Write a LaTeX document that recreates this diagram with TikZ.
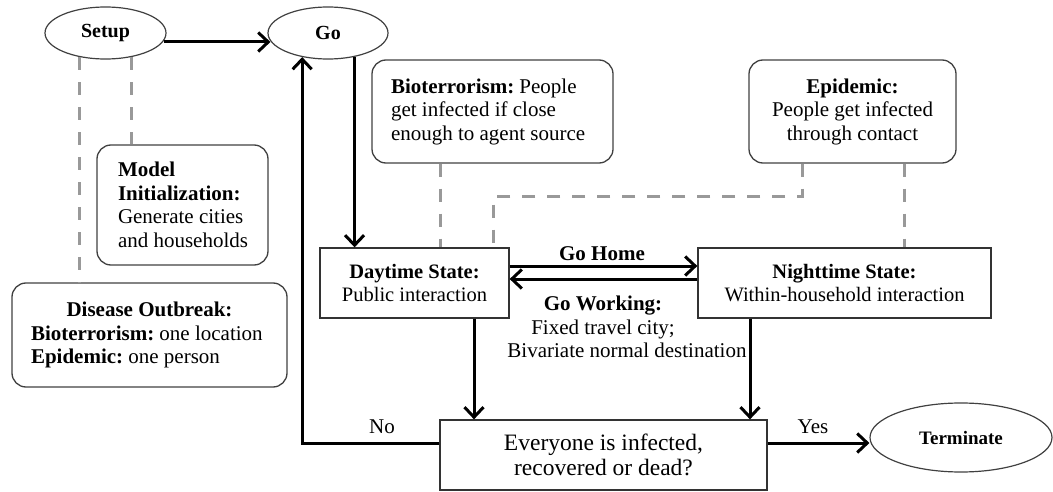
\documentclass[tikz,border=0pt]{standalone}
\usepackage{fontspec}
\setmainfont{Liberation Serif}
\usetikzlibrary{shapes.geometric,arrows.meta,calc}
\newlength{\mylw}
\newcommand{\lline}[1]{\makebox[\mylw][l]{#1}}
\begin{document}
\frenchspacing
\begin{tikzpicture}[x=1pt,y=-1pt,
 ell/.style={draw=black!75, line width=1.2pt, ellipse, inner sep=0pt, font=\fontsize{20}{24}\selectfont\bfseries},
 rbox/.style={draw=black!75, line width=1.3pt, rounded corners=14pt, inner sep=0pt, font=\fontsize{21}{23.5}\selectfont},
 sbox/.style={draw=black!80, line width=1.3pt, inner sep=0pt, font=\fontsize{20.5}{23}\selectfont, align=center},
 arr/.style={line width=3pt, -{Straight Barb[length=10pt,width=19pt]}},
 dsh/.style={draw=gray!80, line width=3pt, dash pattern=on 13pt off 12pt},
 lbl/.style={inner sep=0pt, font=\fontsize{21}{23.5}\selectfont}]

\useasboundingbox (0,0) rectangle (1053,492);

% ellipses
\node[ell, minimum width=121pt, minimum height=52pt] (setup) at (105.5,33) {Setup};
\node[ell, minimum width=120pt, minimum height=52pt] (go) at (328,33) {Go};
\node[ell, minimum width=182pt, minimum height=69pt, font=\fontsize{19}{23}\selectfont\bfseries] (term) at (961,437.5) {Terminate};

% rounded annotation boxes
\node[rbox, minimum width=171pt, minimum height=120pt, align=left] (mod) at (182.5,205)
 {\setlength{\mylw}{129pt}\lline{\textbf{Model}}\\\lline{\textbf{Initialization:}}\\\lline{Generate cities}\\\lline{and households}};
\node[rbox, minimum width=275pt, minimum height=104pt, align=left] (dis) at (149.5,335)
 {\setlength{\mylw}{237pt}\makebox[\mylw]{\textbf{Disease Outbreak:}}\\\lline{\textbf{Bioterrorism:} one location}\\\lline{\textbf{Epidemic:} one person}};
\node[rbox, minimum width=241pt, minimum height=103pt, align=left] (bio) at (492.5,111.5)
 {\setlength{\mylw}{203pt}\lline{\textbf{Bioterrorism:} People}\\\lline{get infected if close}\\\lline{enough to agent source}};
\node[rbox, minimum width=207pt, minimum height=103pt, align=center] (epi) at (852.5,111.5)
 {\textbf{Epidemic:}\\People get infected\\through contact};

% state boxes
\node[sbox, minimum width=189pt, minimum height=70pt] (day) at (414.5,283)
 {\textbf{Daytime State:}\\Public interaction};
\node[sbox, minimum width=293pt, minimum height=70pt] (night) at (844.5,283)
 {\textbf{Nighttime State:}\\Within-household interaction};
\node[sbox, minimum width=327pt, minimum height=70pt, font=\fontsize{23.5}{25.5}\selectfont] (ev) at (603.5,455)
 {Everyone is infected,\\recovered or dead?};

% labels
\node[lbl, font=\fontsize{21}{23.5}\selectfont\bfseries] (gohome) at (602,254) {Go Home};
\node[lbl, align=center] (gowork) at (603,327)
 {\textbf{Go Working:}\\Fixed travel city;\\\hspace*{48pt}Bivariate normal destination};
\node[lbl] (no) at (382,427) {No};
\node[lbl] (yes) at (813,427) {Yes};

% helper coordinates
\coordinate (d1) at ($(day.south)+(59.5,0)$);
\coordinate (n1) at ($(night.south)+(-94.5,0)$);
\coordinate (b1) at ($(bio.south)+(-52.5,0)$);
\coordinate (e1) at ($(epi.south)+(-50.5,0)$);
\coordinate (e4) at ($(epi.south)+(51.5,0)$);
\coordinate (bend) at (493,197);

% dashed links
\draw[dsh] (setup.-137) -- (setup.-137 |- dis.north);
\draw[dsh] (setup.-43) -- (setup.-43 |- mod.north);
\draw[dsh] (b1) -- (b1 |- day.north);
\draw[dsh] (e1) |- (bend) -- (bend |- day.north);
\draw[dsh] (e4) -- (e4 |- night.north);

% arrows
\draw[arr] ([xshift=-3pt,yshift=-9pt]setup.east) -- ([xshift=3pt,yshift=-9pt]go.west);
\draw[arr] (go.-42) -- (go.-42 |- day.north);
\draw[arr] ([yshift=12pt]ev.west) -| (go.-137);
\draw[arr] ([yshift=17pt]day.east) -- ([yshift=17pt]night.west);
\draw[arr] ([yshift=4pt]night.west) -- ([yshift=4pt]day.east);
\draw[arr] (d1) -- (d1 |- ev.north);
\draw[arr] (n1) -- (n1 |- ev.north);
\draw[arr] ([yshift=12pt]ev.east) -- ([yshift=12pt]ev.east -| term.west);
\end{tikzpicture}
\end{document}
